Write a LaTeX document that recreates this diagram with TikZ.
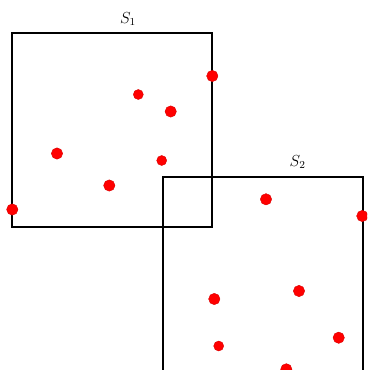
\documentclass[tikz,border=0pt]{standalone}
\begin{document}
\begin{tikzpicture}[x=0.75pt,y=-0.75pt,
  pt/.style={circle,fill=red,draw=red!85!black,line width=0.3pt,inner sep=0pt,minimum size=8.5pt},
  sq/.style={draw=black,line width=1.3pt},
  lab/.style={inner sep=0pt,font=\large}]
\useasboundingbox (0,0) rectangle (367,370);
\clip (0,0) rectangle (367,370);
% squares
\draw[sq] (12.3,33.3) rectangle (212.3,227.3);
\draw[sq] (162.7,176.7) rectangle (363.3,420);
% labels
\node[lab] (l1) at (128,19) {$S_1$};
\node[lab] (l2) at (297.7,162) {$S_2$};
% points of S1
\node[pt] (a1) at (212.3,76) {};
\node[pt,minimum size=7.5pt] (a2) at (138.3,94.5) {};
\node[pt] (a3) at (170.7,111.5) {};
\node[pt] (a4) at (57,153.5) {};
\node[pt,minimum size=7.5pt] (a5) at (161.7,160.5) {};
\node[pt] (a6) at (109.3,185.5) {};
\node[pt] (a7) at (12.3,209.5) {};
% points of S2
\node[pt] (b1) at (266,199.3) {};
\node[pt] (b2) at (362.3,216) {};
\node[pt] (b3) at (299,291) {};
\node[pt] (b4) at (214.3,299) {};
\node[pt] (b5) at (338.7,337.7) {};
\node[pt,minimum size=7.5pt] (b6) at (218.7,346) {};
\node[pt] (b7) at (286.3,369.3) {};
\end{tikzpicture}
\end{document}
